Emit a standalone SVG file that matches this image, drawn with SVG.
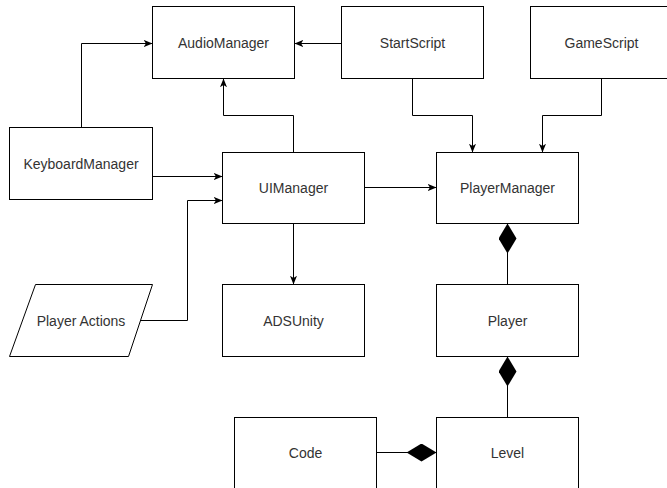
<svg xmlns="http://www.w3.org/2000/svg" width="667" height="488" viewBox="0 0 667 488">
<style>
.box{fill:#fff;stroke:#000;stroke-width:1}
.lbl{font-family:"Liberation Sans",Arial,sans-serif;font-size:14px;fill:#333;text-anchor:middle;dominant-baseline:central}
.edge{fill:none;stroke:#000;stroke-width:1}
.arr{marker-end:url(#arrow)}
.comp{marker-start:url(#diamond)}
</style>
<defs>
<marker id="arrow" viewBox="0 0 10 8" refX="10" refY="4" markerWidth="9" markerHeight="7" markerUnits="userSpaceOnUse" orient="auto">
<path d="M0,0 L10,4 L0,8 L2.5,4 z" fill="#000"/>
</marker>
<marker id="diamond" viewBox="0 0 30 18" refX="0" refY="9" markerWidth="30" markerHeight="18" markerUnits="userSpaceOnUse" orient="auto">
<path d="M0,9 L15,0 L30,9 L15,18 z" fill="#000"/>
</marker>
</defs>
<rect width="667" height="488" fill="#fff"/>
<g id="connectors">
<path class="edge arr" d="M81.5,127.5 V43.5 H152.5"/>
<path class="edge arr" d="M341.5,43.5 H294.5"/>
<path class="edge arr" d="M293.5,152.5 V115.5 H223.5 V78.5"/>
<path class="edge arr" d="M152.5,176.5 H222.5"/>
<path class="edge arr" d="M140,320.5 H187.5 V200.5 H222.5"/>
<path class="edge arr" d="M364.5,187.5 H436.5"/>
<path class="edge arr" d="M293.5,223.5 V284.5"/>
<path class="edge arr" d="M412.5,78.5 V115.5 H472.5 V152.5"/>
<path class="edge arr" d="M601.5,78.5 V115.5 H542.5 V152.5"/>
<path class="edge comp" d="M507.5,223.5 V284.5"/>
<path class="edge comp" d="M507.5,356.5 V417.5"/>
<path class="edge comp" d="M436.5,452.5 H376.5"/>
</g>
<g id="AudioManager"><rect class="box" x="152.5" y="6.5" width="142" height="72"/><text class="lbl" x="223.5" y="43">AudioManager</text></g>
<g id="StartScript"><rect class="box" x="341.5" y="6.5" width="142" height="72"/><text class="lbl" x="412.5" y="43">StartScript</text></g>
<g id="GameScript"><rect class="box" x="530.5" y="6.5" width="142" height="72"/><text class="lbl" x="601.5" y="43">GameScript</text></g>
<g id="KeyboardManager"><rect class="box" x="9.5" y="127.5" width="143" height="72"/><text class="lbl" x="81" y="164">KeyboardManager</text></g>
<g id="UIManager"><rect class="box" x="222.5" y="152.5" width="142" height="71"/><text class="lbl" x="293.5" y="188">UIManager</text></g>
<g id="PlayerManager"><rect class="box" x="436.5" y="152.5" width="142" height="71"/><text class="lbl" x="507.5" y="188">PlayerManager</text></g>
<g id="PlayerActions"><polygon class="box" points="35.5,284.5 152.5,284.5 128.5,356.5 9.5,356.5"/><text class="lbl" x="81" y="321">Player Actions</text></g>
<g id="ADSUnity"><rect class="box" x="222.5" y="284.5" width="142" height="72"/><text class="lbl" x="293.5" y="321">ADSUnity</text></g>
<g id="Player"><rect class="box" x="436.5" y="284.5" width="142" height="72"/><text class="lbl" x="507.5" y="321">Player</text></g>
<g id="Code"><rect class="box" x="234.5" y="417.5" width="142" height="80"/><text class="lbl" x="305.5" y="453">Code</text></g>
<g id="Level"><rect class="box" x="436.5" y="417.5" width="142" height="80"/><text class="lbl" x="507.5" y="453">Level</text></g>
</svg>
